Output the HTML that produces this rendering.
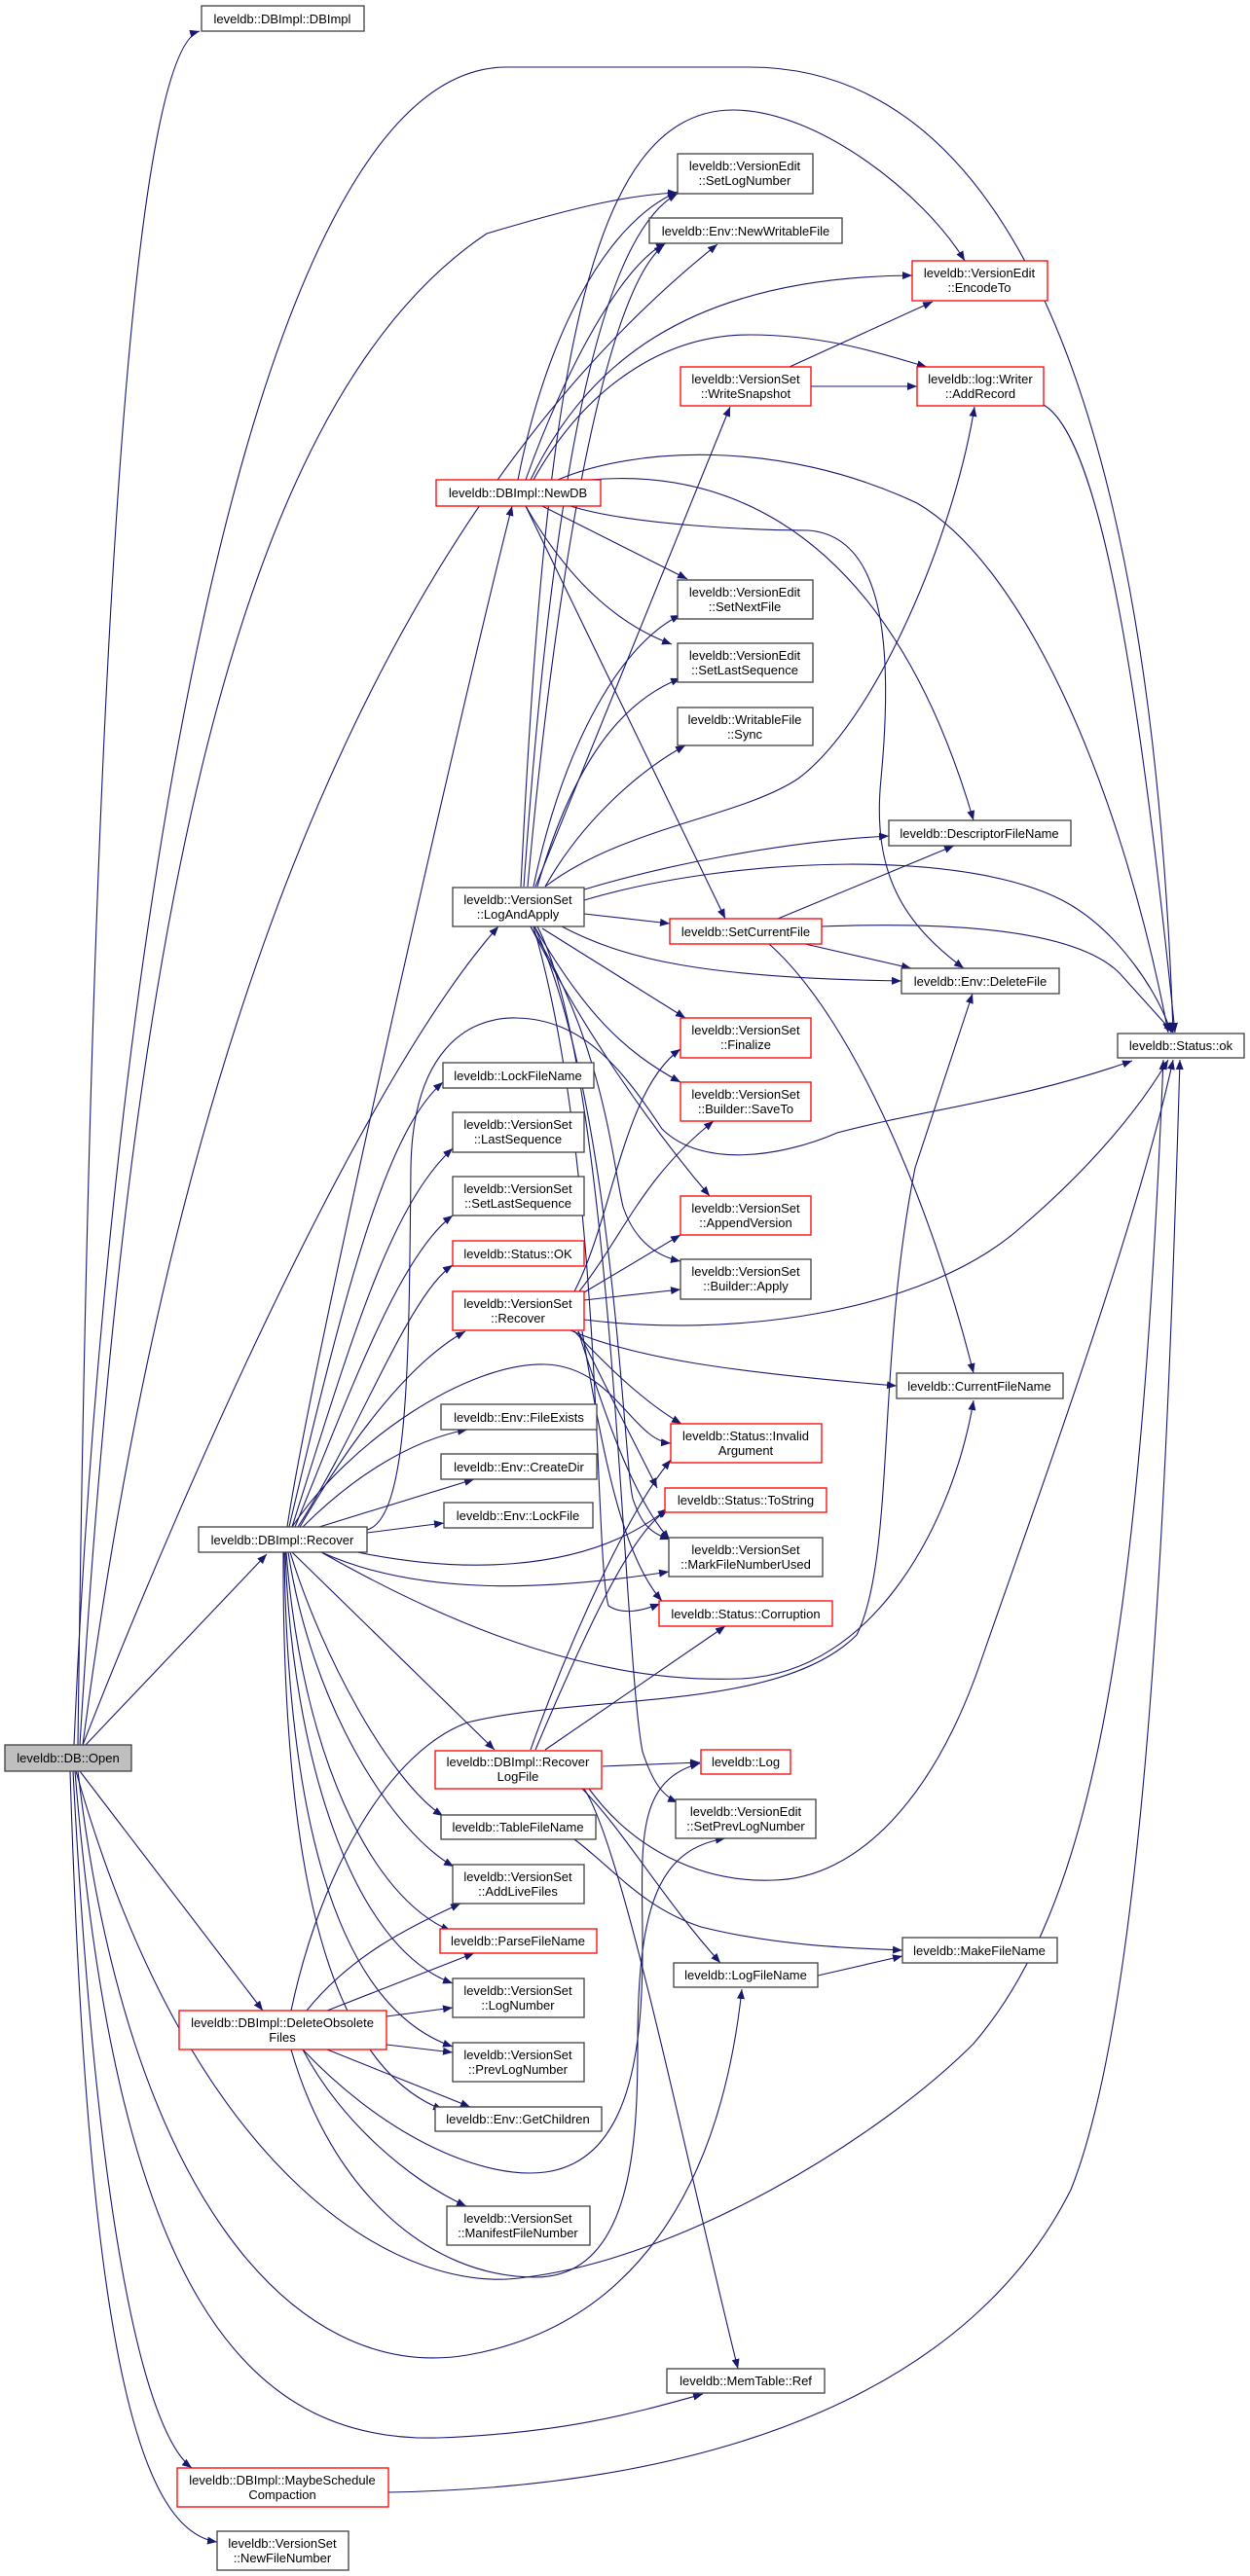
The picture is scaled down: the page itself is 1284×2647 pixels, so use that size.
<!DOCTYPE html>
<html><head><meta charset="utf-8"><style>
html,body{margin:0;padding:0;background:#fff;}
svg{display:block;}
text{font-family:"Liberation Sans",Arial,sans-serif;font-size:13px;fill:#000;}
</style></head><body>
<svg width="1284" height="2647" viewBox="0 0 1284 2647" xmlns="http://www.w3.org/2000/svg">
<defs>
<marker id="a" viewBox="0 0 10 10" refX="10" refY="5" markerWidth="10" markerHeight="10" markerUnits="userSpaceOnUse" orient="auto">
<path d="M0,1 L10,5 L0,9 z" fill="#191970"/>
</marker>
</defs>
<g fill="none" stroke="#191970" stroke-width="1.1" marker-end="url(#a)">
<!-- DB::Open -->
<path d="M80,1793 C95,600 140,50 205,32"/>
<path d="M76,1793 C110,1000 250,69 520,69 L770,69 C1000,69 1180,330 1205,1061"/>
<path d="M82,1793 C130,1000 230,420 500,240 C600,210 650,200 696,198"/>
<path d="M85,1793 C150,1300 300,600 737,251"/>
<path d="M85,1793 C200,1500 380,1100 512,952"/>
<path d="M88,1793 L274,1597"/>
<path d="M82,1820 L270,2066"/>
<path d="M80,1820 C130,2250 300,2450 480,2420 C650,2390 740,2250 762,2044"/>
<path d="M78,1820 C200,2250 420,2360 540,2340 C700,2320 900,2200 1000,2100 C1120,1960 1170,1700 1195,1089"/>
<path d="M77,1820 C120,2350 250,2510 450,2505 C580,2500 650,2480 722,2460"/>
<path d="M75,1820 C100,2300 150,2500 197,2536"/>
<path d="M72,1820 C90,2400 140,2600 223,2612"/>
<!-- MaybeSchedule -->
<path d="M399,2561 C750,2555 1000,2450 1100,2250 C1180,2050 1200,1500 1212,1089"/>
<!-- NewDB -->
<path d="M532,493 C560,350 620,230 696,197"/>
<path d="M540,493 C580,380 640,270 684,250"/>
<path d="M545,493 C600,380 700,285 937,283"/>
<path d="M548,493 C600,400 680,344 770,344 C850,344 910,365 952,377"/>
<path d="M573,493 C650,460 800,450 942,517 C1050,580 1150,800 1200,1061"/>
<path d="M606,493 C700,485 900,500 1000,843"/>
<path d="M586,520 C650,540 780,545 830,545 C900,550 920,640 905,800 C895,900 930,950 990,995"/>
<path d="M557,520 L706,595"/>
<path d="M540,520 C580,590 630,640 690,662"/>
<path d="M540,520 L745,944"/>
<!-- WriteSnapshot / AddRecord -->
<path d="M811,377 L958,310"/>
<path d="M833,397 L942,397"/>
<path d="M1072,416 C1130,450 1170,700 1207,1061"/>
<!-- LogAndApply -->
<path d="M535,911 C560,400 600,113 753,113 C840,113 950,200 991,268"/>
<path d="M538,911 C560,600 600,250 696,199"/>
<path d="M542,911 C570,600 620,300 682,252"/>
<path d="M550,911 L750,418"/>
<path d="M560,911 C640,850 760,840 820,800 C900,740 980,550 1001,418"/>
<path d="M548,911 C580,760 640,660 699,632"/>
<path d="M552,911 C590,780 640,720 699,697"/>
<path d="M560,911 C600,840 660,790 704,766"/>
<path d="M600,914 C680,890 800,865 913,859"/>
<path d="M600,925 C750,880 1000,870 1100,930 C1150,960 1190,1020 1203,1061"/>
<path d="M600,939 L688,949"/>
<path d="M577,952 C640,985 720,1005 926,1008"/>
<path d="M557,954 L704,1046"/>
<path d="M549,952 C600,1040 640,1080 699,1112"/>
<path d="M545,952 C600,1060 670,1160 729,1229"/>
<path d="M545,952 C620,1070 630,1200 640,1240 C650,1270 670,1290 699,1296"/>
<path d="M549,952 C630,1130 640,1500 650,1540 C660,1570 670,1575 688,1582"/>
<path d="M552,952 C630,1100 640,1700 660,1800 C670,1830 680,1845 696,1852"/>
<path d="M548,952 C620,1200 610,1600 625,1650 C640,1660 660,1655 678,1648"/>
<!-- SetCurrentFile -->
<path d="M799,944 L980,869"/>
<path d="M827,970 L936,995"/>
<path d="M844,952 C950,948 1100,950 1150,1000 L1205,1061"/>
<path d="M790,970 C880,1050 960,1250 1000,1411"/>
<!-- VS Recover -->
<path d="M590,1327 C630,1250 640,1120 699,1078"/>
<path d="M595,1327 C640,1270 660,1210 733,1152"/>
<path d="M600,1328 L699,1269"/>
<path d="M600,1336 L699,1325"/>
<path d="M600,1356 C750,1375 950,1350 1050,1260 C1120,1200 1170,1140 1200,1089"/>
<path d="M586,1367 C650,1395 750,1410 921,1424"/>
<path d="M590,1368 C620,1400 660,1440 700,1463"/>
<path d="M594,1368 C620,1420 650,1480 675,1529"/>
<path d="M594,1368 C620,1450 650,1540 688,1582"/>
<path d="M598,1368 C620,1500 640,1600 680,1645"/>
<!-- DBImpl::Recover -->
<path d="M295,1569 C320,1400 480,700 526,520"/>
<path d="M297,1569 C360,1300 400,1160 455,1112"/>
<path d="M300,1569 C360,1380 400,1240 465,1180"/>
<path d="M303,1569 C360,1430 410,1290 465,1249"/>
<path d="M306,1569 C370,1470 420,1330 465,1300"/>
<path d="M308,1569 C360,1480 420,1400 478,1368"/>
<path d="M311,1569 C360,1520 420,1480 480,1469"/>
<path d="M328,1569 L487,1520"/>
<path d="M377,1575 L456,1565"/>
<path d="M330,1595 C430,1640 560,1635 687,1615"/>
<path d="M345,1590 C460,1618 600,1620 686,1550"/>
<path d="M377,1572 C420,1560 420,1400 422,1200 C424,1080 480,1045 530,1046 C600,1047 640,1100 680,1160 C720,1200 800,1190 860,1164 C950,1140 1050,1130 1163,1090"/>
<path d="M300,1569 C360,1480 480,1400 560,1402 C630,1404 650,1480 689,1483"/>
<path d="M330,1595 C480,1680 620,1730 760,1725 C900,1720 980,1560 1000,1439"/>
<path d="M300,1595 L508,1798"/>
<path d="M298,1595 C330,1700 400,1830 455,1866"/>
<path d="M296,1595 C320,1750 400,1880 466,1918"/>
<path d="M294,1595 C310,1800 380,1950 463,1984"/>
<path d="M293,1595 C300,1800 360,2000 465,2038"/>
<path d="M292,1595 C295,1850 340,2060 465,2103"/>
<path d="M291,1595 C290,1900 330,2120 455,2168"/>
<!-- RecoverLogFile -->
<path d="M619,1815 L719,1811"/>
<path d="M598,1838 C640,1880 680,1950 740,2017"/>
<path d="M600,1838 C640,1900 700,2200 758,2434"/>
<path d="M605,1838 C650,1900 720,1935 795,1932 C880,1930 960,1850 1010,1700 C1080,1500 1170,1250 1205,1089"/>
<path d="M560,1798 L745,1671"/>
<path d="M545,1798 C580,1700 640,1560 689,1500"/>
<path d="M550,1798 C600,1680 650,1570 686,1552"/>
<!-- DeleteObsoleteFiles -->
<path d="M299,2066 C330,1920 400,1800 480,1770 C600,1740 800,1760 880,1680 C920,1600 900,1400 940,1200 L999,1021"/>
<path d="M311,2106 C400,2200 500,2240 560,2232 C650,2220 660,2100 660,2000 C660,1900 650,1830 719,1812"/>
<path d="M299,2106 C340,2250 440,2340 550,2340 C650,2340 655,2200 655,2100 C655,1950 680,1900 745,1889"/>
<path d="M315,2066 C360,2010 420,1980 473,1956"/>
<path d="M336,2066 L487,2007"/>
<path d="M397,2072 L465,2063"/>
<path d="M397,2101 L465,2109"/>
<path d="M336,2106 L483,2165"/>
<path d="M311,2106 C350,2180 420,2240 479,2267"/>
<!-- FileName -->
<path d="M590,1890 C630,1920 660,1960 720,1980 C800,2000 880,2002 927,2004"/>
<path d="M840,2030 L927,2010"/>
</g>
<g stroke-width="1.3">
<g fill="#fff" stroke="#404040">
<rect x="207" y="6" width="167" height="26"/>
<rect x="696" y="158" width="139" height="41"/>
<rect x="667" y="224" width="198" height="26"/>
<rect x="696" y="596" width="139" height="40"/>
<rect x="696" y="661" width="139" height="40"/>
<rect x="696" y="727" width="139" height="39"/>
<rect x="913" y="843" width="187" height="26"/>
<rect x="465" y="912" width="135" height="40"/>
<rect x="926" y="995" width="162" height="26"/>
<rect x="1148" y="1062" width="130" height="25"/>
<rect x="455" y="1092" width="155" height="26"/>
<rect x="465" y="1143" width="135" height="41"/>
<rect x="465" y="1209" width="135" height="40"/>
<rect x="699" y="1294" width="134" height="41"/>
<rect x="921" y="1411" width="171" height="26"/>
<rect x="453" y="1443" width="160" height="26"/>
<rect x="453" y="1494" width="160" height="26"/>
<rect x="456" y="1544" width="153" height="26"/>
<rect x="204" y="1569" width="173" height="26"/>
<rect x="687" y="1580" width="158" height="40"/>
<rect x="694" y="1849" width="144" height="40"/>
<rect x="453" y="1865" width="159" height="25"/>
<rect x="465" y="1916" width="135" height="40"/>
<rect x="927" y="1991" width="159" height="26"/>
<rect x="692" y="2017" width="148" height="25"/>
<rect x="465" y="2033" width="135" height="40"/>
<rect x="465" y="2099" width="135" height="40"/>
<rect x="447" y="2165" width="171" height="25"/>
<rect x="459" y="2267" width="147" height="40"/>
<rect x="685" y="2434" width="162" height="25"/>
<rect x="223" y="2601" width="135" height="40"/>
</g>
<g fill="#fff" stroke="#ff0000">
<rect x="937" y="268" width="139" height="41"/>
<rect x="699" y="377" width="134" height="40"/>
<rect x="942" y="377" width="130" height="40"/>
<rect x="448" y="493" width="169" height="27"/>
<rect x="688" y="944" width="156" height="26"/>
<rect x="699" y="1046" width="134" height="41"/>
<rect x="699" y="1112" width="134" height="40"/>
<rect x="699" y="1229" width="134" height="40"/>
<rect x="465" y="1275" width="135" height="26"/>
<rect x="465" y="1327" width="135" height="40"/>
<rect x="689" y="1463" width="155" height="40"/>
<rect x="683" y="1529" width="166" height="25"/>
<rect x="677" y="1645" width="178" height="26"/>
<rect x="447" y="1799" width="171" height="39"/>
<rect x="720" y="1798" width="92" height="25"/>
<rect x="452" y="1982" width="161" height="25"/>
<rect x="184" y="2066" width="213" height="40"/>
<rect x="182" y="2536" width="217" height="40"/>
</g>
<rect x="5" y="1793" width="130" height="27" fill="#bfbfbf" stroke="#404040"/>
</g>
<g text-anchor="middle">
<text x="290" y="24">leveldb::DBImpl::DBImpl</text>
<text x="765" y="175">leveldb::VersionEdit</text><text x="765" y="190">::SetLogNumber</text>
<text x="766" y="242">leveldb::Env::NewWritableFile</text>
<text x="1006" y="285">leveldb::VersionEdit</text><text x="1006" y="300">::EncodeTo</text>
<text x="766" y="394">leveldb::VersionSet</text><text x="766" y="409">::WriteSnapshot</text>
<text x="1007" y="394">leveldb::log::Writer</text><text x="1007" y="409">::AddRecord</text>
<text x="532" y="511">leveldb::DBImpl::NewDB</text>
<text x="765" y="613">leveldb::VersionEdit</text><text x="765" y="628">::SetNextFile</text>
<text x="765" y="678">leveldb::VersionEdit</text><text x="765" y="693">::SetLastSequence</text>
<text x="765" y="744">leveldb::WritableFile</text><text x="765" y="759">::Sync</text>
<text x="1006" y="861">leveldb::DescriptorFileName</text>
<text x="532" y="929">leveldb::VersionSet</text><text x="532" y="944">::LogAndApply</text>
<text x="766" y="962">leveldb::SetCurrentFile</text>
<text x="1007" y="1013">leveldb::Env::DeleteFile</text>
<text x="766" y="1063">leveldb::VersionSet</text><text x="766" y="1078">::Finalize</text>
<text x="1213" y="1079">leveldb::Status::ok</text>
<text x="532" y="1110">leveldb::LockFileName</text>
<text x="766" y="1129">leveldb::VersionSet</text><text x="766" y="1144">::Builder::SaveTo</text>
<text x="532" y="1160">leveldb::VersionSet</text><text x="532" y="1175">::LastSequence</text>
<text x="532" y="1226">leveldb::VersionSet</text><text x="532" y="1241">::SetLastSequence</text>
<text x="766" y="1246">leveldb::VersionSet</text><text x="766" y="1261">::AppendVersion</text>
<text x="532" y="1293">leveldb::Status::OK</text>
<text x="766" y="1311">leveldb::VersionSet</text><text x="766" y="1326">::Builder::Apply</text>
<text x="532" y="1344">leveldb::VersionSet</text><text x="532" y="1359">::Recover</text>
<text x="1006" y="1429">leveldb::CurrentFileName</text>
<text x="533" y="1461">leveldb::Env::FileExists</text>
<text x="766" y="1480">leveldb::Status::Invalid</text><text x="766" y="1495">Argument</text>
<text x="533" y="1512">leveldb::Env::CreateDir</text>
<text x="766" y="1546">leveldb::Status::ToString</text>
<text x="532" y="1562">leveldb::Env::LockFile</text>
<text x="290" y="1587">leveldb::DBImpl::Recover</text>
<text x="766" y="1597">leveldb::VersionSet</text><text x="766" y="1612">::MarkFileNumberUsed</text>
<text x="766" y="1663">leveldb::Status::Corruption</text>
<text x="70" y="1811">leveldb::DB::Open</text>
<text x="532" y="1815">leveldb::DBImpl::Recover</text><text x="532" y="1830">LogFile</text>
<text x="766" y="1815">leveldb::Log</text>
<text x="766" y="1866">leveldb::VersionEdit</text><text x="766" y="1881">::SetPrevLogNumber</text>
<text x="532" y="1882">leveldb::TableFileName</text>
<text x="532" y="1933">leveldb::VersionSet</text><text x="532" y="1948">::AddLiveFiles</text>
<text x="532" y="1999">leveldb::ParseFileName</text>
<text x="1006" y="2009">leveldb::MakeFileName</text>
<text x="766" y="2034">leveldb::LogFileName</text>
<text x="532" y="2050">leveldb::VersionSet</text><text x="532" y="2065">::LogNumber</text>
<text x="290" y="2083">leveldb::DBImpl::DeleteObsolete</text><text x="290" y="2098">Files</text>
<text x="532" y="2116">leveldb::VersionSet</text><text x="532" y="2131">::PrevLogNumber</text>
<text x="532" y="2182">leveldb::Env::GetChildren</text>
<text x="532" y="2284">leveldb::VersionSet</text><text x="532" y="2299">::ManifestFileNumber</text>
<text x="766" y="2451">leveldb::MemTable::Ref</text>
<text x="290" y="2553">leveldb::DBImpl::MaybeSchedule</text><text x="290" y="2568">Compaction</text>
<text x="290" y="2618">leveldb::VersionSet</text><text x="290" y="2633">::NewFileNumber</text>
</g>
</svg>
</body></html>
